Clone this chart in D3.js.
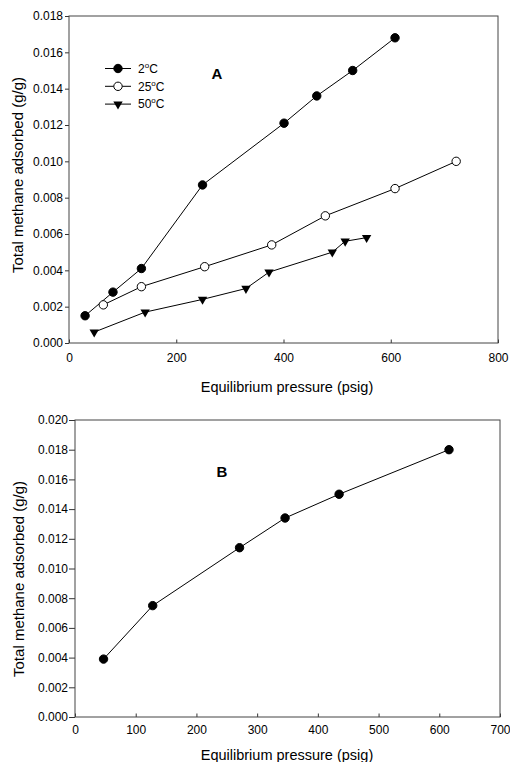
<!DOCTYPE html>
<html>
<head>
<meta charset="utf-8">
<script src="https://cdn.jsdelivr.net/npm/d3@7"></script>
<style>
  body { margin: 0; background: #fff; }
  svg { display: block; font-family: "Liberation Sans", Arial, sans-serif; }
  .tick text { fill: #000; }
</style>
</head>
<body>
<svg id="chart" width="510" height="762"></svg>
<script>
// Panel A: methane adsorbed vs pressure at three temperatures
const p2C = [30, 82, 135, 249, 401, 462, 529, 608];
const q2C = [0.0015, 0.0028, 0.0041, 0.0087, 0.0121, 0.0136, 0.0150, 0.0168];
const p25C = [64, 135, 253, 378, 478, 608, 722];
const q25C = [0.0021, 0.0031, 0.0042, 0.0054, 0.0070, 0.0085, 0.0100];
const p50C = [47, 142, 249, 330, 373, 491, 515, 555];
const q50C = [0.0006, 0.0017, 0.0024, 0.0030, 0.0039, 0.0050, 0.0056, 0.0058];
const legendTemps = ['2', '25', '50'];

// Panel B
const pB = [47, 128, 271, 346, 435, 616];
const qB = [0.0039, 0.0075, 0.0114, 0.0134, 0.0150, 0.0180];

const xTicksA = [0, 200, 400, 600, 800];
const yTicksA = [0, 0.002, 0.004, 0.006, 0.008, 0.010, 0.012, 0.014, 0.016, 0.018];
const xTicksB = [0, 100, 200, 300, 400, 500, 600, 700];
const yTicksB = [0, 0.002, 0.004, 0.006, 0.008, 0.010, 0.012, 0.014, 0.016, 0.018, 0.020];

const svg = d3.select('#chart');

function zip(xs, ys) {
    return xs.map((x, i) => ({ x: x, y: ys[i] }));
}

// Draw one panel frame with axes, returns scales + group
function drawPanel(cfg) {
    const x = d3.scaleLinear().domain(cfg.xDomain).range([cfg.left, cfg.right]);
    const y = d3.scaleLinear().domain(cfg.yDomain).range([cfg.bottom, cfg.top]);
    const g = svg.append('g');

    g.append('g')
        .attr('transform', `translate(0,${cfg.bottom})`)
        .call(d3.axisBottom(x).tickValues(cfg.xTicks).tickSize(-3.5).tickPadding(cfg.xPad).tickFormat(d3.format('d')))
        .call(a => a.select('.domain').remove())
        .call(a => a.selectAll('line').attr('stroke', '#333'))
        .call(a => a.selectAll('text').attr('font-size', 12));

    g.append('g')
        .attr('transform', `translate(${cfg.left},0)`)
        .call(d3.axisLeft(y).tickValues(cfg.yTicks).tickSize(cfg.yTick).tickPadding(cfg.yPad).tickFormat(d3.format('.3f')))
        .call(a => a.select('.domain').remove())
        .call(a => a.selectAll('line').attr('stroke', '#333'))
        .call(a => a.selectAll('text').attr('font-size', 12));

    g.append('rect')
        .attr('x', cfg.left)
        .attr('y', cfg.top)
        .attr('width', cfg.right - cfg.left)
        .attr('height', cfg.bottom - cfg.top)
        .attr('fill', 'none')
        .attr('stroke', '#444')
        .attr('stroke-width', 1);

    g.append('text')
        .attr('x', cfg.xTitle[0])
        .attr('y', cfg.xTitle[1])
        .attr('text-anchor', 'middle')
        .attr('font-size', 14.5)
        .text('Equilibrium pressure (psig)');

    g.append('text')
        .attr('transform', `translate(${cfg.yTitle[0]},${cfg.yTitle[1]}) rotate(-90)`)
        .attr('text-anchor', 'middle')
        .attr('font-size', 15)
        .text('Total methane adsorbed (g/g)');

    g.append('text')
        .attr('x', cfg.label[0])
        .attr('y', cfg.label[1])
        .attr('text-anchor', 'middle')
        .attr('font-size', 15)
        .attr('font-weight', 'bold')
        .text(cfg.labelText);

    return { x, y, g };
}

const line = (x, y) => d3.line().x(d => x(d.x)).y(d => y(d.y));
const triangle = d3.symbol().type(d3.symbolTriangle).size(38);

function drawSeries(panel, data, kind) {
    const { x, y, g } = panel;
    g.append('path')
        .datum(data)
        .attr('d', line(x, y))
        .attr('fill', 'none')
        .attr('stroke', '#000')
        .attr('stroke-width', 1);
    drawMarkers(g, data.map(d => [x(d.x), y(d.y)]), kind);
}

function drawMarkers(g, pts, kind) {
    if (kind === 'tri') {
        g.selectAll(null).data(pts).join('path')
            .attr('d', triangle)
            .attr('transform', d => `translate(${d[0]},${d[1]}) rotate(180)`)
            .attr('fill', '#000');
    } else {
        g.selectAll(null).data(pts).join('circle')
            .attr('cx', d => d[0])
            .attr('cy', d => d[1])
            .attr('r', 4.2)
            .attr('fill', kind === 'open' ? '#fff' : '#000')
            .attr('stroke', '#000')
            .attr('stroke-width', 1);
    }
}

// ---- Panel A ----
const panelA = drawPanel({
    left: 69, right: 498, top: 16, bottom: 343,
    xDomain: [0, 800], yDomain: [0, 0.018],
    xTicks: xTicksA, yTicks: yTicksA,
    xPad: 10.5, yTick: 4, yPad: 2,
    xTitle: [287, 391.5], yTitle: [22.5, 175],
    label: [217, 79], labelText: 'A'
});
drawSeries(panelA, zip(p2C, q2C), 'filled');
drawSeries(panelA, zip(p25C, q25C), 'open');
drawSeries(panelA, zip(p50C, q50C), 'tri');

// legend
const kinds = ['filled', 'open', 'tri'];
const legend = panelA.g.append('g');
legendTemps.forEach((t, i) => {
    const ly = 68.5 + i * 17.8;
    legend.append('line')
        .attr('x1', 105).attr('x2', 131)
        .attr('y1', ly).attr('y2', ly)
        .attr('stroke', '#000');
    drawMarkers(legend, [[118, ly]], kinds[i]);
    const txt = legend.append('text')
        .attr('x', 138)
        .attr('y', ly + 4.2)
        .attr('font-size', 12);
    txt.append('tspan').text(t);
    txt.append('tspan').attr('font-size', 8).attr('dy', -5).text('o');
    txt.append('tspan').attr('dy', 5).text('C');
});

// ---- Panel B ----
const panelB = drawPanel({
    left: 75, right: 500, top: 420, bottom: 717,
    xDomain: [0, 700], yDomain: [0, 0.020],
    xTicks: xTicksB, yTicks: yTicksB,
    xPad: 8.5, yTick: 6, yPad: 1,
    xTitle: [287, 760], yTitle: [24, 579],
    label: [222, 477], labelText: 'B'
});
drawSeries(panelB, zip(pB, qB), 'filled');
</script>
</body>
</html>
